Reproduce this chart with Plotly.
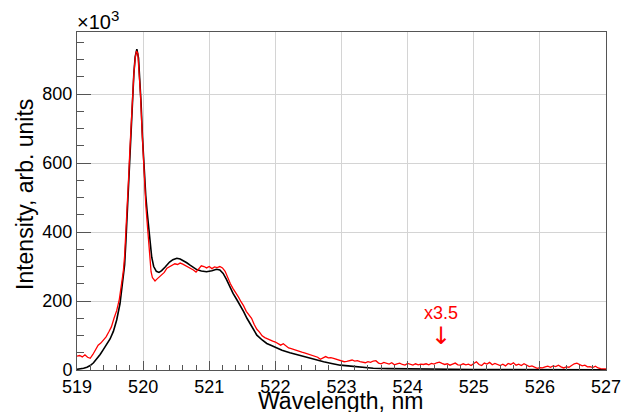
import plotly.graph_objects as go

# ---------------- data (intensity in units of 10^3) ----------------
black_wl = [519.00, 519.05, 519.10, 519.15, 519.20, 519.25, 519.30, 519.35, 519.40, 519.45,
            519.50, 519.55, 519.60, 519.65, 519.70, 519.72, 519.74, 519.76, 519.78, 519.80,
            519.82, 519.84, 519.86, 519.88, 519.905, 519.93, 519.95, 519.97, 519.99, 520.01,
            520.04, 520.06, 520.085, 520.10, 520.13, 520.16, 520.20, 520.24, 520.28, 520.33,
            520.40, 520.45, 520.51, 520.56, 520.61, 520.66, 520.71, 520.76, 520.81, 520.88,
            520.96, 521.04, 521.11, 521.16, 521.21, 521.26, 521.31, 521.36, 521.42, 521.47,
            521.52, 521.57, 521.62, 521.67, 521.72, 521.80, 521.87, 521.94, 522.00, 522.10,
            522.22, 522.35, 522.47, 522.60, 522.73, 522.85, 522.98, 523.10, 523.23, 523.35,
            523.48, 523.70, 524.00, 524.50, 525.00, 525.50, 526.00, 526.50, 527.00]
black_int = [2, 3, 5, 8, 13, 21, 32, 45, 60, 74,
             90, 112, 145, 192, 262, 305, 375, 455, 545, 630,
             715, 790, 860, 908, 930, 905, 850, 770, 675, 595,
             505, 460, 410, 372, 327, 300, 286, 283, 288, 298,
             313, 320, 324, 322, 317, 311, 304, 297, 291, 287,
             285, 288, 292, 290, 280, 263, 242, 222, 203, 187,
             169, 150, 133, 116, 101, 87, 77, 71, 66, 57,
             50, 43, 36, 30, 24, 19, 14, 12, 10, 7,
             5, 4, 3, 2, 1.5, 1.2, 1, 0.8, 0.5]

red_wl = [519.00, 519.04, 519.08, 519.12, 519.16, 519.20, 519.24, 519.28, 519.32, 519.36,
          519.40, 519.44, 519.48, 519.52, 519.56, 519.60, 519.64, 519.68, 519.70, 519.72,
          519.74, 519.76, 519.78, 519.80, 519.82, 519.84, 519.86, 519.88, 519.90, 519.92,
          519.94, 519.96, 519.98, 520.00, 520.02, 520.04, 520.06, 520.08, 520.10, 520.12,
          520.14, 520.16, 520.18, 520.20, 520.24, 520.28, 520.32, 520.36, 520.40, 520.44,
          520.48, 520.52, 520.56, 520.60, 520.64, 520.68, 520.72, 520.76, 520.80, 520.84,
          520.88, 520.92, 520.96, 521.00, 521.04, 521.08, 521.12, 521.16, 521.20, 521.24,
          521.28, 521.32, 521.36, 521.40, 521.44, 521.48, 521.52, 521.56, 521.60, 521.64,
          521.68, 521.72, 521.76, 521.80, 521.84, 521.88, 521.92, 521.96, 522.00, 522.04,
          522.08, 522.12, 522.16, 522.20, 522.24, 522.28, 522.32, 522.36, 522.40, 522.44,
          522.48, 522.52, 522.56, 522.60, 522.64, 522.68, 522.72, 522.76, 522.80, 522.84,
          522.88, 522.92, 522.96, 523.00, 523.04, 523.08, 523.12, 523.16, 523.20, 523.24,
          523.28, 523.32, 523.36, 523.40, 523.44, 523.48, 523.52, 523.56, 523.60, 523.64,
          523.68, 523.72, 523.76, 523.80, 523.84, 523.88, 523.92, 523.96, 524.00, 524.04,
          524.08, 524.12, 524.16, 524.20, 524.24, 524.28, 524.32, 524.36, 524.40, 524.44,
          524.48, 524.52, 524.56, 524.60, 524.64, 524.68, 524.72, 524.76, 524.80, 524.84,
          524.88, 524.92, 524.96, 525.00, 525.04, 525.08, 525.12, 525.16, 525.20, 525.24,
          525.28, 525.32, 525.36, 525.40, 525.44, 525.48, 525.52, 525.56, 525.60, 525.64,
          525.68, 525.72, 525.76, 525.80, 525.84, 525.88, 525.92, 525.96, 526.00, 526.04,
          526.08, 526.12, 526.16, 526.20, 526.24, 526.28, 526.32, 526.36, 526.40, 526.44,
          526.48, 526.52, 526.56, 526.60, 526.64, 526.68, 526.72, 526.76, 526.80, 526.84,
          526.88, 526.92, 526.96, 527.00]
red_int = [40, 42, 38, 44, 37, 34, 45, 58, 72, 78,
           88, 96, 110, 125, 150, 172, 205, 250, 285, 330,
           395, 470, 555, 640, 720, 795, 860, 905, 925, 918,
           868, 798, 710, 622, 545, 480, 430, 382, 322, 285,
           268, 262, 258, 262, 270, 275, 283, 295, 300, 305,
           308, 306, 310, 307, 303, 300, 296, 290, 284, 292,
           302, 300, 296, 300, 294, 299, 297, 300, 296, 286,
           266, 250, 236, 225, 212, 198, 186, 170, 160, 150,
           132, 118, 110, 99, 94, 90, 88, 84, 81, 76,
           72, 76, 70, 64, 62, 59, 56, 55, 52, 50,
           47, 45, 43, 40, 37, 31, 36, 39, 35, 36,
           34, 31, 29, 27, 24, 25, 28, 29, 26, 27,
           24, 22, 21, 24, 22, 26, 27, 20, 18, 22,
           19, 17, 21, 15, 18, 20, 16, 14, 19, 17,
           14, 18, 15, 17, 16, 18, 15, 19, 17, 21,
           23, 19, 16, 18, 14, 17, 20, 15, 14, 18,
           15, 17, 13, 19, 24, 16, 13, 20, 17, 22,
           15, 19, 16, 13, 17, 12, 19, 16, 21, 14,
           17, 13, 18, 15, 10, 12, 8, 5, 7, 6,
           9, 11, 8, 12, 10, 14, 9, 6, 9, 8,
           13, 18, 20, 15, 12, 14, 9, 10, 7, 11,
           6, 4, 3, 3]

x_ticks = [519, 520, 521, 522, 523, 524, 525, 526, 527]
y_ticks = [0, 200, 400, 600, 800]

FONT = "Liberation Sans, Arial, Helvetica, sans-serif"
AXC = "#555555"
GRID = "#d4d4d4"

fig = go.Figure()
fig.add_trace(go.Scatter(x=black_wl, y=black_int, mode="lines",
                         line=dict(color="black", width=1.6), hoverinfo="skip"))
fig.add_trace(go.Scatter(x=red_wl, y=red_int, mode="lines",
                         line=dict(color="#ff0000", width=1.3), hoverinfo="skip"))

fig.update_layout(
    width=622, height=412,
    margin=dict(l=77, r=16, t=32, b=42, autoexpand=False),
    paper_bgcolor="white", plot_bgcolor="white",
    showlegend=False,
    font=dict(family=FONT, size=18, color="black"),
    xaxis=dict(range=[519, 527], tickvals=x_ticks, ticktext=[str(v) for v in x_ticks],
               ticks="inside", ticklen=9, tickcolor=AXC, tickwidth=1,
               showline=True, linecolor=AXC, linewidth=1, mirror=True,
               showgrid=True, gridcolor=GRID, gridwidth=1, zeroline=False,
               automargin=False, tickfont=dict(size=18),
               minor=dict(dtick=0.2, tick0=519, ticks="inside", ticklen=5,
                          tickcolor=AXC, showgrid=False)),
    yaxis=dict(range=[0, 980], tickvals=y_ticks, ticktext=[str(v) for v in y_ticks],
               ticks="inside", ticklen=14, tickcolor=AXC, tickwidth=1,
               showline=True, linecolor=AXC, linewidth=1, mirror=True,
               showgrid=True, gridcolor=GRID, gridwidth=1, zeroline=False,
               automargin=False, tickfont=dict(size=18),
               minor=dict(dtick=50, tick0=0, ticks="inside", ticklen=7,
                          tickcolor=AXC, showgrid=False)),
)

fig.add_annotation(text="×10<sup><span style='font-size:15px'>3</span></sup>",
                   xref="paper", yref="paper",
                   x=0, y=1, xanchor="left", yanchor="bottom", showarrow=False,
                   font=dict(size=20, family=FONT), xshift=-2, yshift=-3)
fig.add_annotation(text="Intensity, arb. units", xref="paper", yref="paper",
                   x=-0.0983, y=0.5207, xanchor="center", yanchor="middle",
                   textangle=-90, showarrow=False, font=dict(size=23, family=FONT))
fig.add_annotation(text="Wavelength, nm", xref="paper", yref="paper",
                   x=0.499, y=-0.0444, xanchor="center", yanchor="top",
                   showarrow=False, font=dict(size=23, family=FONT), yshift=-1)
fig.add_annotation(text="x3.5", x=524.5, y=165, xref="x", yref="y",
                   showarrow=False, font=dict(size=18, color="#ff0000", family=FONT))
fig.add_annotation(text="↓", x=524.5, y=100, xref="x", yref="y",
                   showarrow=False,
                   font=dict(size=24, color="#ff0000", family="DejaVu Sans"))

fig.write_html("out.html")
